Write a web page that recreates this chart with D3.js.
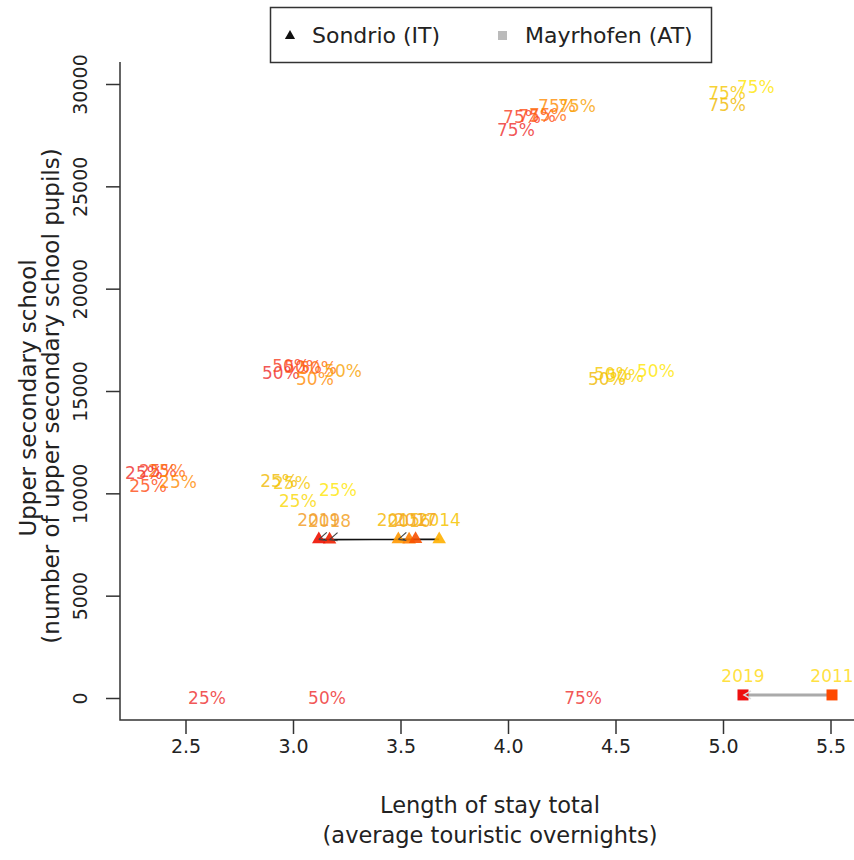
<!DOCTYPE html>
<html><head><meta charset="utf-8">
<script src="https://cdn.jsdelivr.net/npm/d3@7"></script>
<style>body{margin:0;background:#fff}svg{display:block;font-family:"DejaVu Sans",sans-serif}</style>
</head><body><svg id="c" width="854" height="860"></svg>
<script>
// ---- data ----
const xTicks = [2.5, 3.0, 3.5, 4.0, 4.5, 5.0, 5.5];
const yTicks = [0, 5000, 10000, 15000, 20000, 25000, 30000];
const legendLabels = ["Sondrio (IT)", "Mayrhofen (AT)"];

// quantile labels: text, year, x (length of stay), y (pupils)
const qText = ["75%","75%","75%","75%","75%","75%", "75%","75%","75%",
               "50%","50%","50%","50%","50%","50%", "50%","50%","50%","50%",
               "25%","25%","25%","25%","25%", "25%","25%","25%","25%",
               "25%","50%","75%"];
const qYear = [2020,2019,2018,2017,2016,2015, 2014,2013,2011,
               2020,2019,2018,2017,2016,2015, 2014,2013,2012,2011,
               2020,2019,2017,2018,2016, 2014,2013,2012,2011,
               2020,2020,2020];
const qX = [4.037,4.065,4.135,4.186,4.228,4.321, 5.019,5.019,5.153,
            2.944,2.991,3.047,3.116,3.102,3.233, 4.460,4.488,4.544,4.688,
            2.307,2.372,2.414,2.326,2.465, 2.935,2.995,3.023,3.209,
            2.600,3.158,4.349];
const qY = [27750,28390,28440,28490,28930,28930, 28980,29560,29860,
            15880,16220,16170,16120,15590,15980, 15590,15830,15730,15980,
            10990,11090,11090,10360,10550, 10600,10500,9625,10160,
            0,0,0];

// Sondrio (IT)
const sYears = [2014, 2015, 2016, 2017, 2018, 2019];
const sStay  = [3.68, 3.49, 3.54, 3.57, 3.17, 3.12];
const sPupils= [7750, 7750, 7740, 7760, 7740, 7750];
// Mayrhofen (AT)
const mYears = [2011, 2019];
const mStay  = [5.507, 5.093];
const mPupils= [150, 150];

// ---- scales ----
const svg = d3.select("#c");
const x = d3.scaleLinear().domain([2.5, 5.5]).range([185.5, 830.5]);
const y = d3.scaleLinear().domain([0, 30000]).range([698, 84]);
const heat = d3.scaleLinear().domain([2011, 2014, 2016, 2018, 2020])
  .range(["#ffe600", "#f0b800", "#ff8a00", "#ff4a10", "#ee2a2a"]);
const labelHeat = d3.scaleLinear().domain([2011, 2014, 2017, 2020])
  .range(["#ffe000", "#f5c400", "#f5a623", "#f09a30"]);
const pointHeat = d3.scaleLinear().domain([2011, 2014, 2016, 2018, 2020])
  .range(["#ff4a00", "#ffb000", "#ff8000", "#ee2000", "#ee0000"]);

// ---- frame ----
const L = 120, B = 720, T = 62, R = 854;
svg.append("path").attr("d", `M${L},${T}V${B}H${R}`).attr("fill","none").attr("stroke","#333").attr("stroke-width",1.5);

// axes
const xAxis = svg.append("g").attr("transform", `translate(0,${B})`)
  .call(d3.axisBottom(x).tickValues(xTicks).tickFormat(d3.format(".1f")).tickSize(14).tickPadding(6));
const yAxis = svg.append("g").attr("transform", `translate(${L},0)`)
  .call(d3.axisLeft(y).tickValues(yTicks).tickFormat(d => d).tickSize(14).tickPadding(0));
[xAxis, yAxis].forEach(a => {
  a.select(".domain").remove();
  a.selectAll("line").attr("stroke","#333").attr("stroke-width",1.5);
  a.selectAll("text").attr("fill","#222").style("font-size","19px").style("font-family","DejaVu Sans");
});
yAxis.selectAll(".tick text").attr("transform","rotate(-90)").attr("x",0).attr("dy",null)
  .attr("y",-40).attr("text-anchor","middle").attr("dominant-baseline","central");

// axis titles
svg.append("text").attr("x", 490).attr("y", 813).attr("text-anchor","middle").attr("fill","#222")
  .style("font-size","22.5px").text("Length of stay total");
svg.append("text").attr("x", 490).attr("y", 843).attr("text-anchor","middle").attr("fill","#222")
  .style("font-size","22.5px").text("(average touristic overnights)");
svg.append("text").attr("transform","translate(36,398) rotate(-90)").attr("text-anchor","middle").attr("fill","#222")
  .style("font-size","23px").text("Upper secondary school");
svg.append("text").attr("transform","translate(59,396) rotate(-90)").attr("text-anchor","middle").attr("fill","#222")
  .style("font-size","23px").text("(number of upper secondary school pupils)");

// quantile labels
svg.append("g").selectAll("text").data(qText).join("text")
  .attr("x", (d,i) => x(qX[i])).attr("y", (d,i) => y(qY[i]))
  .attr("text-anchor","middle").attr("dominant-baseline","central")
  .attr("fill", (d,i) => heat(qYear[i])).attr("fill-opacity", 0.8)
  .style("font-size","17px").text(d => d);

// Mayrhofen line + arrow
svg.append("line").attr("x1", x(mStay[0])).attr("y1", y(mPupils[0])).attr("x2", x(mStay[1])).attr("y2", y(mPupils[1]))
  .attr("stroke","#aaaaaa").attr("stroke-width",3);
svg.append("g").selectAll("rect").data(mYears).join("rect")
  .attr("x",(d,i)=>x(mStay[i])-5.5).attr("y",(d,i)=>y(mPupils[i])-5.5).attr("width",11).attr("height",11)
  .attr("fill", (d,i)=> i===0 ? "#ff4a00" : "#ee1010");
{
  const hx = x(mStay[1]) + 1, hy = y(mPupils[1]);
  svg.append("path").attr("d", `M${hx+7},${hy-4}L${hx},${hy}L${hx+7},${hy+4}`).attr("fill","none")
    .attr("stroke","#dddddd").attr("stroke-width",1.5);
}
svg.append("g").selectAll("text").data(mYears).join("text")
  .attr("x",(d,i)=>x(mStay[i])).attr("y",(d,i)=>y(mPupils[i])-19)
  .attr("text-anchor","middle").attr("dominant-baseline","central")
  .attr("fill","#ffdc20").attr("fill-opacity",0.85).style("font-size","17px").text(d=>d);

// Sondrio line
const line = d3.line().x(d=>x(sStay[d])).y(d=>y(sPupils[d]));
svg.append("path").attr("d", line(d3.range(sYears.length))).attr("fill","none").attr("stroke","#111").attr("stroke-width",1.6);
svg.append("g").selectAll("path").data(sYears).join("path")
  .attr("transform",(d,i)=>`translate(${x(sStay[i])},${y(sPupils[i])})`)
  .attr("d", d3.symbol(d3.symbolTriangle, 80)())
  .attr("fill", d => pointHeat(d)).attr("fill-opacity",0.9);
// small arrowheads
[[4,5],[3,4],[0,1]].forEach(([a,b]) => {
  const x0 = x(sStay[a]), x1 = x(sStay[b]), yy = y(sPupils[b]);
  const dir = x1 < x0 ? 1 : -1;
  svg.append("path").attr("d", `M${x1+dir*8},${yy-7}L${x1},${yy}M${x1+dir*8},${yy+1}L${x1},${yy}`)
    .attr("fill","none").attr("stroke","#444").attr("stroke-width",1.2);
});
svg.append("g").selectAll("text").data(sYears).join("text")
  .attr("x",(d,i)=>x(sStay[i])).attr("y",(d,i)=>y(sPupils[i])-19)
  .attr("text-anchor","middle").attr("dominant-baseline","central")
  .attr("fill", d => labelHeat(d)).attr("fill-opacity",0.85).style("font-size","17px").text(d=>d);

// legend
const lg = svg.append("g");
lg.append("rect").attr("x",270.5).attr("y",7.5).attr("width",441).attr("height",55).attr("fill","#fff").attr("stroke","#333").attr("stroke-width",1.5);
lg.append("path").attr("transform","translate(290,36)").attr("d", d3.symbol(d3.symbolTriangle, 45)()).attr("fill","#111");
lg.append("rect").attr("x",498).attr("y",31).attr("width",9).attr("height",9).attr("fill","#bbbbbb");
lg.selectAll("text").data(legendLabels).join("text")
  .attr("x",(d,i)=> i===0 ? 312 : 525).attr("y",35).attr("dominant-baseline","central")
  .attr("fill","#222").style("font-size","22px").text(d=>d);
</script></body></html>
